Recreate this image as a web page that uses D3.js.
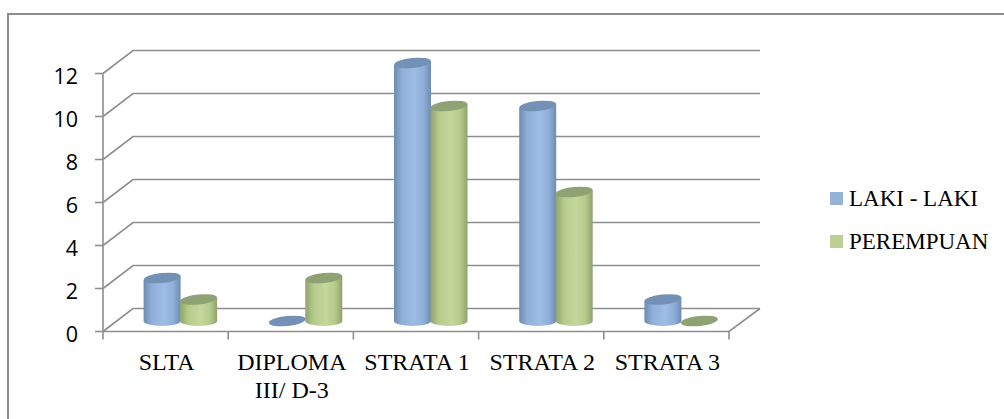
<!DOCTYPE html>
<html>
<head>
<meta charset="utf-8">
<script src="https://cdn.jsdelivr.net/npm/d3@7"></script>
<style>
html, body { margin: 0; padding: 0; background: #fff; }
</style>
</head>
<body>
<div id="chart"></div>
<script>
const categories = [["SLTA"], ["DIPLOMA", "III/ D-3"], ["STRATA 1"], ["STRATA 2"], ["STRATA 3"]];
const lakiLaki = [2, 0, 12, 10, 1];
const perempuan = [1, 2, 10, 6, 0];
const yTicks = [0, 2, 4, 6, 8, 10, 12];
const seriesNames = ["LAKI - LAKI", "PEREMPUAN"];

const width = 1004, height = 419;
const depthX = 30, depthY = 23;

const svg = d3.select("#chart").append("svg")
    .attr("width", width)
    .attr("height", height)
    .style("display", "block");

const x = d3.scaleBand().domain(d3.range(categories.length)).range([103, 729]);
const y = d3.scaleLinear().domain([0, 12]).range([331.5, 73.5]);

// outer frame, only top and left are in the picture
svg.append("path")
    .attr("d", d3.line()([[8, height], [8, 14], [width, 14]]))
    .attr("fill", "none")
    .attr("stroke", "#8c8c8c")
    .attr("stroke-width", 2);

// gradients for the cylinders
const defs = svg.append("defs");
function gradient(id, edge, mid, light) {
    const g = defs.append("linearGradient").attr("id", id);
    g.append("stop").attr("offset", "0%").attr("stop-color", edge);
    g.append("stop").attr("offset", "22%").attr("stop-color", mid);
    g.append("stop").attr("offset", "55%").attr("stop-color", light);
    g.append("stop").attr("offset", "80%").attr("stop-color", mid);
    g.append("stop").attr("offset", "100%").attr("stop-color", edge);
}
gradient("blue", "#6f8cb2", "#8fafd8", "#9dbde6");
gradient("green", "#8fa26c", "#b5cb8c", "#c4d79c");

// walls and floor
const grid = svg.append("g")
    .attr("fill", "none")
    .attr("stroke", "#8e8e8e")
    .attr("stroke-width", 1.6);

yTicks.forEach(function(t) {
    grid.append("path")
        .attr("d", d3.line()([
            [x.range()[0], y(t)],
            [x.range()[0] + depthX, y(t) - depthY],
            [x.range()[1] + depthX + 1, y(t) - depthY]
        ]));
    grid.append("line")
        .attr("x1", x.range()[0] - 8).attr("x2", x.range()[0])
        .attr("y1", y(t)).attr("y2", y(t));
});

// vertical axis and floor front edge
grid.append("line")
    .attr("x1", x.range()[0]).attr("x2", x.range()[0])
    .attr("y1", y(12)).attr("y2", y(0));
grid.append("path")
    .attr("d", d3.line()([
        [x.range()[0], y(0)],
        [x.range()[1], y(0)],
        [x.range()[1] + depthX + 1, y(0) - depthY]
    ]));
d3.range(categories.length + 1).forEach(function(i) {
    const px = x.range()[0] + i * x.bandwidth();
    grid.append("line")
        .attr("x1", px).attr("x2", px)
        .attr("y1", y(0)).attr("y2", y(0) + 8);
});

// y tick labels
svg.append("g").selectAll("text")
    .data(yTicks)
    .join("text")
    .attr("x", 78)
    .attr("y", function(d) { return y(d) + 10.5; })
    .attr("text-anchor", "end")
    .attr("font-family", "'Open Sans', sans-serif")
    .attr("font-size", 21.5)
    .attr("fill", "#000")
    .text(function(d) { return d; });

// category labels
const catLabels = svg.append("g")
    .attr("font-family", "'Liberation Serif', serif")
    .attr("font-size", 24)
    .attr("fill", "#000")
    .attr("text-anchor", "middle");
categories.forEach(function(lines, i) {
    lines.forEach(function(line, j) {
        catLabels.append("text")
            .attr("x", x(i) + x.bandwidth() / 2 + 1)
            .attr("y", 370 + j * 28)
            .text(line);
    });
});

// cylinders, drawn series by series so green sits over blue
const barW = 37, rise = 10.5, ry = 5, tilt = -6;
function cylinder(v, i, fillId, topColor, offset) {
    const cx = x(i) + x.bandwidth() / 2 + offset;
    const top = y(v) - rise;
    const base = y(0) - rise;
    const g = svg.append("g");
    if (v > 0) {
        g.append("path")
            .attr("fill", "url(#" + fillId + ")")
            .attr("d", "M" + (cx - barW / 2) + "," + (top + 2)
                + "L" + (cx - barW / 2) + "," + base
                + "A" + (barW / 2) + "," + ry + " 0 0 0 " + (cx + barW / 2) + "," + base
                + "L" + (cx + barW / 2) + "," + (top - 2) + "Z");
    }
    g.append("ellipse")
        .attr("cx", cx).attr("cy", top)
        .attr("rx", barW / 2).attr("ry", ry)
        .attr("fill", topColor)
        .attr("transform", "rotate(" + tilt + " " + cx + " " + top + ")");
}
lakiLaki.forEach(function(v, i) { cylinder(v, i, "blue", "#7391b7", -3.5); });
perempuan.forEach(function(v, i) { cylinder(v, i, "green", "#8ea274", 33); });

// legend
const legend = svg.append("g");
seriesNames.forEach(function(name, i) {
    const ly = 192 + i * 43;
    legend.append("rect")
        .attr("x", 830).attr("y", ly)
        .attr("width", 13).attr("height", 13)
        .attr("fill", i === 0 ? "#95b3d7" : "#bbd095");
    legend.append("text")
        .attr("x", 849).attr("y", ly + 13.5)
        .attr("font-family", "'Liberation Serif', serif")
        .attr("font-size", 23)
        .attr("fill", "#000")
        .text(name);
});
</script>
</body>
</html>
